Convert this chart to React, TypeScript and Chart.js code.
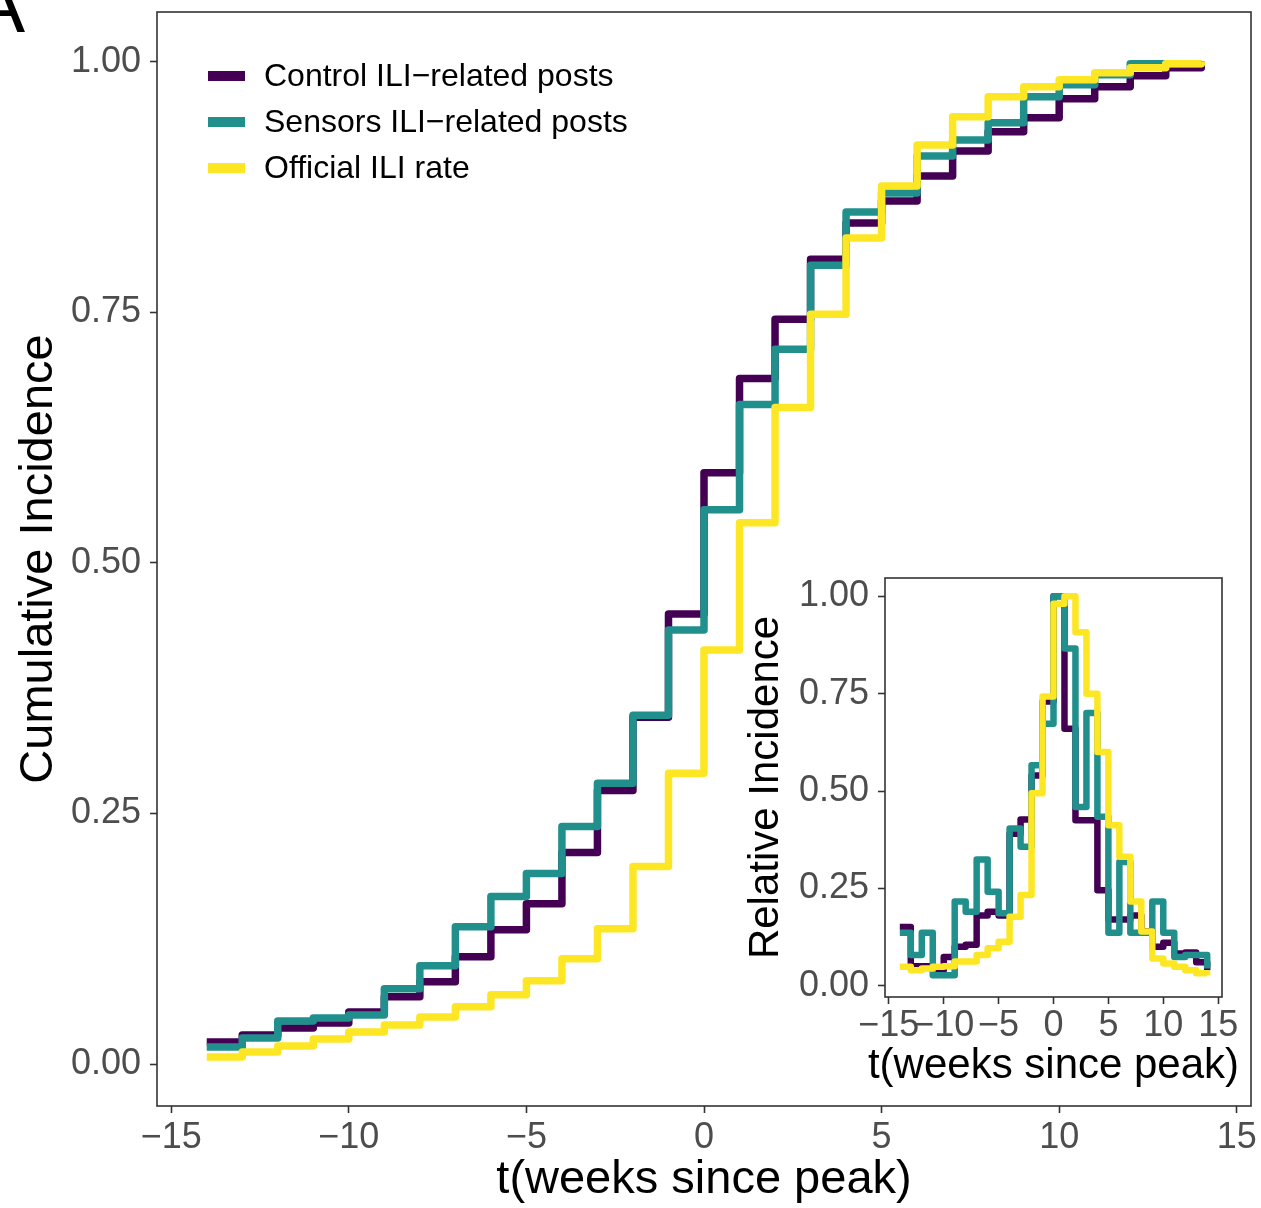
import React, { useEffect, useRef } from 'react';
import { Chart, registerables } from 'chart.js';

Chart.register(...registerables);

// ---------- data ----------
const weeks = [-14, -13, -12, -11, -10, -9, -8, -7, -6, -5, -4, -3, -2, -1, 0, 1, 2, 3, 4, 5, 6, 7, 8, 9, 10, 11, 12, 13, 14];

const controlCumulative = [0.022, 0.029, 0.036, 0.041, 0.052, 0.067, 0.082, 0.107, 0.134, 0.160, 0.211, 0.273, 0.346, 0.449, 0.590, 0.684, 0.743, 0.803, 0.839, 0.861, 0.886, 0.911, 0.930, 0.944, 0.963, 0.975, 0.986, 0.994, 1.000];
const sensorsCumulative = [0.017, 0.026, 0.043, 0.046, 0.049, 0.075, 0.098, 0.137, 0.167, 0.190, 0.237, 0.280, 0.348, 0.433, 0.553, 0.658, 0.713, 0.797, 0.850, 0.869, 0.906, 0.922, 0.939, 0.965, 0.977, 0.987, 0.998, 0.998, 1.000];
const officialCumulative = [0.007, 0.012, 0.018, 0.025, 0.032, 0.039, 0.047, 0.057, 0.069, 0.083, 0.105, 0.135, 0.197, 0.290, 0.413, 0.540, 0.655, 0.748, 0.824, 0.876, 0.917, 0.945, 0.965, 0.975, 0.982, 0.989, 0.994, 0.998, 1.000];

const controlRelative = [0.151, 0.050, 0.050, 0.040, 0.074, 0.100, 0.105, 0.180, 0.190, 0.180, 0.390, 0.427, 0.540, 0.730, 1.000, 0.660, 0.425, 0.425, 0.245, 0.170, 0.170, 0.180, 0.140, 0.100, 0.110, 0.083, 0.085, 0.060, 0.040];
const sensorsRelative = [0.136, 0.079, 0.136, 0.027, 0.027, 0.216, 0.190, 0.324, 0.241, 0.186, 0.404, 0.357, 0.566, 0.673, 1.000, 0.866, 0.459, 0.700, 0.434, 0.136, 0.318, 0.136, 0.136, 0.216, 0.136, 0.074, 0.079, 0.079, 0.044];
const officialRelative = [0.049, 0.040, 0.044, 0.049, 0.050, 0.062, 0.062, 0.079, 0.096, 0.113, 0.177, 0.233, 0.494, 0.743, 0.981, 1.000, 0.908, 0.750, 0.600, 0.412, 0.331, 0.216, 0.139, 0.070, 0.057, 0.049, 0.040, 0.032, 0.027];

const seriesLabels = ['Control ILI\u2212related posts', 'Sensors ILI\u2212related posts', 'Official ILI rate'];
const seriesColors = ['#440154', '#21908C', '#FDE725'];

const xTickValues = [-15, -10, -5, 0, 5, 10, 15];
const yTickValues = [0, 0.25, 0.5, 0.75, 1.0];

const xTitle = 't(weeks since peak)';
const mainYTitle = 'Cumulative Incidence';
const insetYTitle = 'Relative Incidence';
const panelTag = 'A';

// ---------- helpers ----------
const FAMILY = "'Liberation Sans', Arial, Helvetica, sans-serif";
const fmtX = (v: number) => (v < 0 ? '\u2212' + Math.abs(v) : String(v));

function makeDatasets(series: number[][], width: number) {
  return series.map((vals, i) => ({
    label: seriesLabels[i],
    data: weeks.map((w, j) => ({ x: w, y: vals[j] })),
    borderColor: seriesColors[i],
    backgroundColor: seriesColors[i],
    borderWidth: width,
    pointRadius: 0,
    pointHoverRadius: 0,
    stepped: 'before' as const,
    fill: false,
    borderJoinStyle: 'round' as const,
    borderCapStyle: 'butt' as const,
    order: series.length - 1 - i,
  }));
}

const panelBorder = {
  id: 'panelBorder',
  afterDatasetsDraw(chart: any) {
    const { ctx, chartArea: a } = chart;
    ctx.save();
    ctx.strokeStyle = '#333333';
    ctx.lineWidth = 1.6;
    ctx.strokeRect(a.left, a.top, a.right - a.left, a.bottom - a.top);
    ctx.restore();
  },
};

const insideLegend = {
  id: 'insideLegend',
  afterDatasetsDraw(chart: any) {
    const { ctx, chartArea: a } = chart;
    ctx.save();
    chart.data.datasets.forEach((ds: any, i: number) => {
      const cy = a.top + 64 + 46 * i;
      ctx.fillStyle = ds.borderColor;
      ctx.fillRect(a.left + 51, cy - 5, 37, 10);
      ctx.fillStyle = '#000000';
      ctx.font = `32px ${FAMILY}`;
      ctx.textBaseline = 'middle';
      ctx.textAlign = 'left';
      ctx.fillText(ds.label, a.left + 107, cy + 1);
    });
    ctx.restore();
  },
};

const tagPlugin = {
  id: 'tagPlugin',
  afterDraw(chart: any) {
    const { ctx } = chart;
    ctx.save();
    ctx.fillStyle = '#000000';
    ctx.font = `80px ${FAMILY}`;
    ctx.textAlign = 'right';
    ctx.textBaseline = 'alphabetic';
    ctx.fillText(panelTag, 25, 32);
    ctx.restore();
  },
};

// x-axis title of the inset runs wider than its panel, so it is drawn unsqueezed here
const insetXTitle = {
  id: 'insetXTitle',
  afterDraw(chart: any) {
    const { ctx, chartArea: a } = chart;
    ctx.save();
    ctx.fillStyle = '#000000';
    ctx.font = `42px ${FAMILY}`;
    ctx.textAlign = 'center';
    ctx.textBaseline = 'middle';
    ctx.fillText(xTitle, (a.left + a.right) / 2, chart.height - 33.6);
    ctx.restore();
  },
};

function scaleOptions(opts: {
  xmin: number; xmax: number; ymin: number; ymax: number;
  yWidth: number; xHeight: number; yTitle: string; showXTitle: boolean;
  titleSize: number; yTitlePad: number; xTitlePad: number; xTickPad: number;
}) {
  const tickFont = { family: FAMILY, size: 36 };
  const grid = {
    display: true,
    drawOnChartArea: false,
    drawTicks: true,
    tickLength: 7,
    tickColor: '#333333',
    tickWidth: 1.6,
    color: '#333333',
  };
  return {
    x: {
      type: 'linear' as const,
      min: opts.xmin,
      max: opts.xmax,
      afterBuildTicks: (s: any) => { s.ticks = xTickValues.map((v) => ({ value: v })); },
      afterFit: (s: any) => {
        s.height = opts.xHeight;
        s.paddingLeft = 0; s.paddingRight = 0; s.paddingTop = 0; s.paddingBottom = 0;
      },
      ticks: {
        font: tickFont,
        color: '#4d4d4d',
        padding: opts.xTickPad,
        maxRotation: 0,
        minRotation: 0,
        autoSkip: false,
        callback: (v: any) => fmtX(Number(v)),
      },
      grid,
      border: { display: false },
      title: {
        display: opts.showXTitle,
        text: xTitle,
        color: '#000000',
        font: { family: FAMILY, size: opts.titleSize },
        padding: { top: 0, bottom: opts.xTitlePad },
      },
    },
    y: {
      type: 'linear' as const,
      min: opts.ymin,
      max: opts.ymax,
      afterBuildTicks: (s: any) => { s.ticks = yTickValues.map((v) => ({ value: v })); },
      afterFit: (s: any) => {
        s.width = opts.yWidth;
        s.paddingLeft = 0; s.paddingRight = 0; s.paddingTop = 0; s.paddingBottom = 0;
      },
      ticks: {
        font: tickFont,
        color: '#4d4d4d',
        padding: 9,
        autoSkip: false,
        callback: (v: any) => Number(v).toFixed(2),
      },
      grid,
      border: { display: false },
      title: {
        display: true,
        text: opts.yTitle,
        color: '#000000',
        font: { family: FAMILY, size: opts.titleSize },
        padding: { top: opts.yTitlePad, bottom: 0 },
      },
    },
  };
}

export default function App() {
  const mainRef = useRef<HTMLCanvasElement | null>(null);
  const insetRef = useRef<HTMLCanvasElement | null>(null);

  useEffect(() => {
    if (!mainRef.current || !insetRef.current) return;

    const main = new Chart(mainRef.current, {
      type: 'line',
      data: { datasets: makeDatasets([controlCumulative, sensorsCumulative, officialCumulative], 7.5) as any },
      options: {
        responsive: false,
        animation: false,
        events: [],
        layout: { padding: { left: 0, right: 10, top: 12, bottom: 0 } },
        plugins: { legend: { display: false }, tooltip: { enabled: false } },
        scales: scaleOptions({
          xmin: -15.4, xmax: 15.4, ymin: -0.0419, ymax: 1.0496,
          yWidth: 157, xHeight: 102, yTitle: mainYTitle, showXTitle: true,
          titleSize: 47, yTitlePad: 10.5, xTitlePad: 0, xTickPad: 3,
        }) as any,
      },
      plugins: [panelBorder, insideLegend, tagPlugin],
    });

    const inset = new Chart(insetRef.current, {
      type: 'line',
      data: { datasets: makeDatasets([controlRelative, sensorsRelative, officialRelative], 6.5) as any },
      options: {
        responsive: false,
        animation: false,
        events: [],
        layout: { padding: { left: 0, right: 29, top: 8, bottom: 0 } },
        plugins: { legend: { display: false }, tooltip: { enabled: false } },
        scales: scaleOptions({
          xmin: -15.35, xmax: 15.35, ymin: -0.029, ymax: 1.047,
          yWidth: 145, xHeight: 103, yTitle: insetYTitle, showXTitle: false,
          titleSize: 42, yTitlePad: 1.2, xTitlePad: 8.4, xTickPad: 0,
        }) as any,
      },
      plugins: [panelBorder, insetXTitle],
    });

    return () => {
      main.destroy();
      inset.destroy();
    };
  }, []);

  return (
    <div style={{ position: 'absolute', left: 0, top: 0, width: 1261, height: 1208, background: '#ffffff' }}>
      <canvas
        ref={mainRef}
        width={1261}
        height={1208}
        style={{ position: 'absolute', left: 0, top: 0, width: 1261, height: 1208 }}
      />
      <canvas
        ref={insetRef}
        width={511}
        height={530}
        style={{ position: 'absolute', left: 740, top: 570, width: 511, height: 530 }}
      />
    </div>
  );
}
